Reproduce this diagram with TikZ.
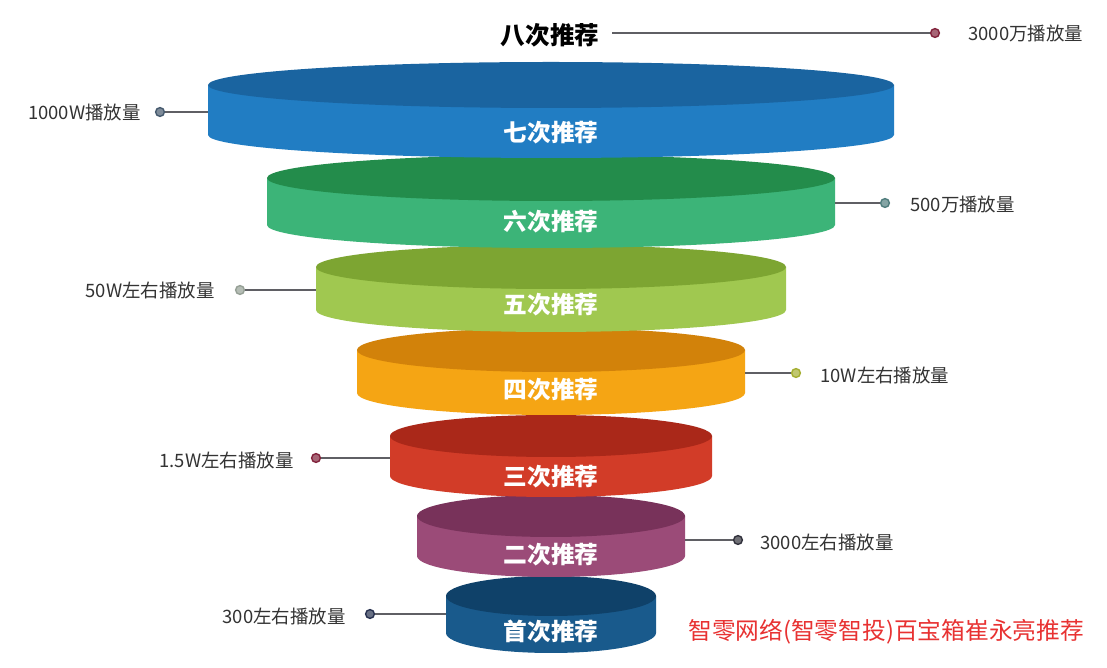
\documentclass[tikz,border=0pt]{standalone}
\usepackage{xcolor}
\usepackage{fontspec}
\usepackage{tikz}
\newfontfamily\cjk{Noto Sans CJK SC}

\definecolor{blueside}{RGB}{33,125,195}
\definecolor{bluetop}{RGB}{26,100,160}
\definecolor{greenside}{RGB}{60,180,120}
\definecolor{greentop}{RGB}{35,140,75}
\definecolor{limeside}{RGB}{160,200,80}
\definecolor{limetop}{RGB}{125,165,50}
\definecolor{orangeside}{RGB}{245,165,20}
\definecolor{orangetop}{RGB}{210,130,10}
\definecolor{redside}{RGB}{210,60,40}
\definecolor{redtop}{RGB}{170,40,25}
\definecolor{plumside}{RGB}{155,75,120}
\definecolor{plumtop}{RGB}{120,50,90}
\definecolor{navyside}{RGB}{25,90,140}
\definecolor{navytop}{RGB}{15,65,105}
\definecolor{wmred}{RGB}{232,50,50}
\definecolor{leadgray}{RGB}{95,95,100}
\definecolor{dotwine}{RGB}{130,35,60}
\definecolor{dotslate}{RGB}{70,90,110}
\definecolor{dotteal}{RGB}{80,125,125}
\definecolor{dotsage}{RGB}{150,160,150}
\definecolor{dotolive}{RGB}{165,175,50}
\definecolor{dotink}{RGB}{50,50,60}
\definecolor{dotnavy}{RGB}{40,50,80}

% one disc of the funnel: top y, bottom y, x radius, y radius, side colour, top colour
\newcommand{\drawtier}[6]{%
    \fill[#5] (551-#3,#1) -- (551-#3,#2) arc[start angle=180, end angle=0, x radius=#3, y radius=#4] -- (551+#3,#1) -- cycle;
    \fill[#6] (551,#1) ellipse[x radius=#3, y radius=#4];}

\begin{document}
\begin{tikzpicture}[x=0.02cm, y=-0.02cm,
    tierlabel/.style={text=white, font=\cjk\bfseries\fontsize{13.5}{15}\selectfont, inner sep=0pt},
    valuelabel/.style={text=black!80, font=\cjk\fontsize{10.5}{12}\selectfont, inner sep=0pt},
    dot/.style={circle, draw=#1, fill=#1!70!white, line width=0.8pt, minimum size=5pt, inner sep=0pt},
    lead/.style={draw=leadgray, line width=0.7pt}]
    \useasboundingbox (0,0) rectangle (1107,668);
    \fill[white] (0,0) rectangle (1107,668);

    % discs, lowest first
    \drawtier{596}{633}{105}{20}{navyside}{navytop}
    \drawtier{516}{556}{134}{21}{plumside}{plumtop}
    \drawtier{436}{476}{161}{21}{redside}{redtop}
    \drawtier{350}{393}{194}{22}{orangeside}{orangetop}
    \drawtier{267}{310}{235}{22}{limeside}{limetop}
    \drawtier{178}{225}{284}{23}{greenside}{greentop}
    \drawtier{85}{135}{343}{23}{blueside}{bluetop}

    \node[tierlabel] (t7) at (551,133) {七次推荐};
    \node[tierlabel] (t6) at (551,222) {六次推荐};
    \node[tierlabel] (t5) at (551,305) {五次推荐};
    \node[tierlabel] (t4) at (551,390) {四次推荐};
    \node[tierlabel] (t3) at (551,477) {三次推荐};
    \node[tierlabel] (t2) at (551,555) {二次推荐};
    \node[tierlabel] (t1) at (551,632) {首次推荐};

    % top line
    \node[font=\cjk\bfseries\fontsize{14}{16}\selectfont, inner sep=0pt] (t8) at (550,35) {八次推荐};
    \node[dot=dotwine] (d8) at (935,33) {};
    \node[valuelabel, anchor=west] (v8) at (968,33) {3000万播放量};
    \coordinate (s8) at (612,33);
    \draw[lead] (s8) -- (d8);

    % edge points of the discs
    \coordinate (e7) at (208,112);
    \coordinate (e6) at (835,203);
    \coordinate (e5) at (316,290);
    \coordinate (e4) at (745,373);
    \coordinate (e3) at (390,458);
    \coordinate (e2) at (685,540);
    \coordinate (e1) at (446,614);

    \node[dot=dotslate] (d7) at (160,112) {};
    \node[dot=dotteal] (d6) at (885,203) {};
    \node[dot=dotsage] (d5) at (240,290) {};
    \node[dot=dotolive] (d4) at (796,373) {};
    \node[dot=dotwine] (d3) at (316,458) {};
    \node[dot=dotink] (d2) at (738,540) {};
    \node[dot=dotnavy] (d1) at (370,614) {};

    \draw[lead] (d7) -- (e7);
    \draw[lead] (e6) -- (d6);
    \draw[lead] (d5) -- (e5);
    \draw[lead] (e4) -- (d4);
    \draw[lead] (d3) -- (e3);
    \draw[lead] (e2) -- (d2);
    \draw[lead] (d1) -- (e1);

    \node[valuelabel, anchor=east] (v7) at (141,112) {1000W播放量};
    \node[valuelabel, anchor=west] (v6) at (910,204) {500万播放量};
    \node[valuelabel, anchor=east] (v5) at (215,290) {50W左右播放量};
    \node[valuelabel, anchor=west] (v4) at (820,375) {10W左右播放量};
    \node[valuelabel, anchor=east] (v3) at (294,460) {1.5W左右播放量};
    \node[valuelabel, anchor=west] (v2) at (760,542) {3000左右播放量};
    \node[valuelabel, anchor=east] (v1) at (346,616) {300左右播放量};

    \node[text=wmred, font=\cjk\fontsize{13.5}{15}\selectfont, inner sep=0pt, anchor=west] (wm) at (688,632) {智零网络(智零智投)百宝箱崔永亮推荐};
\end{tikzpicture}
\end{document}
